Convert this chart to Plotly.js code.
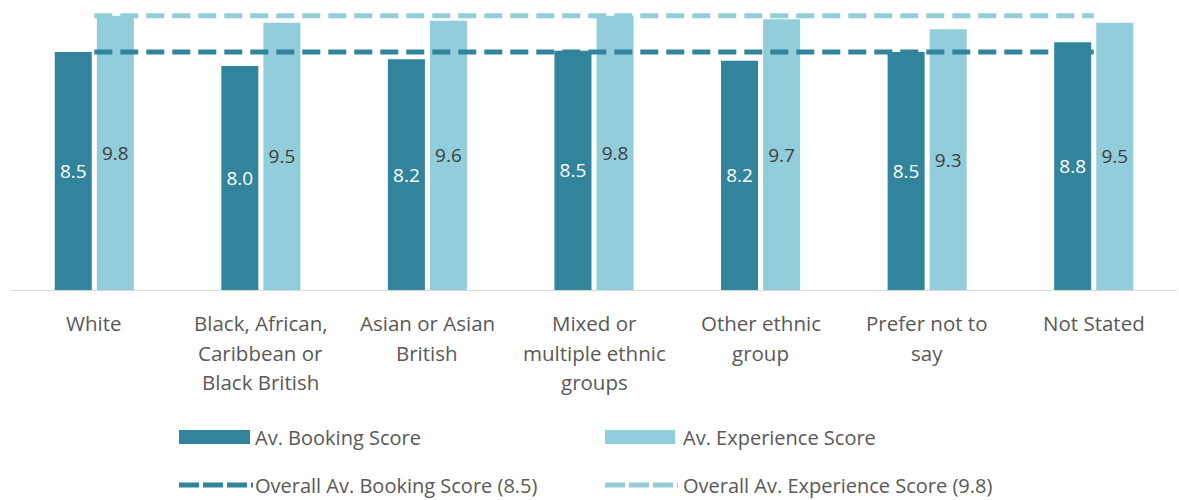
<!DOCTYPE html>
<html>
<head>
<meta charset="utf-8">
<script src="https://cdn.plot.ly/plotly-3.0.1.min.js"></script>
<style>
  html, body { margin: 0; padding: 0; background: #ffffff; }
  #chart { width: 1179px; height: 500px; }
</style>
</head>
<body>
<div id="chart"></div>
<script>
// ---- data ----
const categories = [
  "White",
  "Black, African,<br>Caribbean or<br>Black British",
  "Asian or Asian<br>British",
  "Mixed or<br>multiple ethnic<br>groups",
  "Other ethnic<br>group",
  "Prefer not to<br>say",
  "Not Stated"
];
const bookingScores    = [8.5, 8.0, 8.24, 8.55, 8.19, 8.5, 8.85];
const experienceScores = [9.8, 9.55, 9.62, 9.8, 9.67, 9.31, 9.55];
const bookingLabels    = ["8.5", "8.0", "8.2", "8.5", "8.2", "8.5", "8.8"];
const experienceLabels = ["9.8", "9.5", "9.6", "9.8", "9.7", "9.3", "9.5"];
const overallBooking = 8.5;
const overallExperience = 9.8;
const seriesNames = [
  "Av. Booking Score",
  "Av. Experience Score",
  "Overall Av. Booking Score (8.5)",
  "Overall Av. Experience Score (9.8)"
];

// ---- styles ----
const cBooking = "#31849B";
const cExperience = "#92CDDC";
const cBookingDash = "#31849B";
const cExperienceDash = "#93CDDA";
const textGrey = "#595959";
const FONT = "Open Sans, DejaVu Sans, sans-serif";
const LABEL_SIZE = 20.5;
const LEGEND_SIZE = 20;

const W = 1179, H = 500;
const M = { l: 11, r: 2, t: 5, b: 210 };
const plotW = W - M.l - M.r, plotH = H - M.t - M.b;
const px2x = p => (p - M.l) / plotW;
const py2y = p => (H - M.b - p) / plotH;

const traces = [
  {
    type: "bar", name: seriesNames[0], x: categories, y: bookingScores,
    marker: { color: cBooking }, text: bookingLabels, textposition: "inside",
    insidetextanchor: "middle", textangle: 0,
    textfont: { family: FONT, size: 19, color: "#ffffff" },
    hoverinfo: "x+y", showlegend: false
  },
  {
    type: "bar", name: seriesNames[1], x: categories, y: experienceScores,
    marker: { color: cExperience }, text: experienceLabels, textposition: "inside",
    insidetextanchor: "middle", textangle: 0,
    textfont: { family: FONT, size: 19, color: "#404040" },
    hoverinfo: "x+y", showlegend: false
  },
  {
    type: "scatter", mode: "lines", name: seriesNames[2], x: categories,
    y: categories.map(() => overallBooking),
    line: { color: cBookingDash, width: 5, dash: "18px,8px" }, showlegend: false
  },
  {
    type: "scatter", mode: "lines", name: seriesNames[3], x: categories,
    y: categories.map(() => overallExperience),
    line: { color: cExperienceDash, width: 5, dash: "18px,8px" }, showlegend: false
  }
];

// category labels as annotations (one per line, for wider line spacing)
const annotations = [];
categories.forEach(cat => {
  cat.split("<br>").forEach((line, i) => {
    annotations.push({
      x: cat, y: 0, xref: "x", yref: "y", text: line, showarrow: false,
      xanchor: "center", yanchor: "middle", yshift: -(33 + i * 29.5),
      font: { family: FONT, size: LABEL_SIZE, color: textGrey }
    });
  });
});

// custom legend
const shapes = [];
const legendItems = [
  { kind: "bar",  color: cBooking,        x0: 179, x1: 250, tx: 254, cy: 437, name: seriesNames[0] },
  { kind: "bar",  color: cExperience,     x0: 605, x1: 675, tx: 682, cy: 437, name: seriesNames[1] },
  { kind: "dash", color: cBookingDash,    x0: 179, x1: 250, tx: 254, cy: 485, name: seriesNames[2] },
  { kind: "dash", color: cExperienceDash, x0: 605, x1: 675, tx: 682, cy: 485, name: seriesNames[3] }
];
legendItems.forEach(it => {
  if (it.kind === "bar") {
    shapes.push({
      type: "rect", xref: "paper", yref: "paper",
      x0: px2x(it.x0), x1: px2x(it.x1), y0: py2y(it.cy + 7), y1: py2y(it.cy - 7),
      fillcolor: it.color, line: { width: 0 }
    });
  } else {
    shapes.push({
      type: "line", xref: "paper", yref: "paper",
      x0: px2x(it.x0), x1: px2x(it.x1 + 3), y0: py2y(it.cy), y1: py2y(it.cy),
      line: { color: it.color, width: 5, dash: "20px,4px" }
    });
  }
  annotations.push({
    xref: "paper", yref: "paper", x: px2x(it.tx), y: py2y(it.cy),
    xanchor: "left", yanchor: "middle", showarrow: false, text: it.name,
    borderpad: 0,
    font: { family: FONT, size: LEGEND_SIZE, color: textGrey }
  });
});

const layout = {
  width: W, height: H,
  margin: M,
  paper_bgcolor: "#ffffff", plot_bgcolor: "#ffffff",
  barmode: "group", bargap: 0.495, bargroupgap: 0.12,
  showlegend: false,
  xaxis: {
    type: "category", showticklabels: false, ticks: "",
    showline: true, linecolor: "#d9d9d9", linewidth: 1,
    showgrid: false, zeroline: false, fixedrange: true
  },
  yaxis: {
    range: [0, 10.18], visible: false, showgrid: false, zeroline: false, fixedrange: true
  },
  annotations: annotations,
  shapes: shapes,
  font: { family: FONT, color: textGrey }
};

Plotly.newPlot("chart", traces, layout, { displayModeBar: false, staticPlot: true });
</script>
</body>
</html>
